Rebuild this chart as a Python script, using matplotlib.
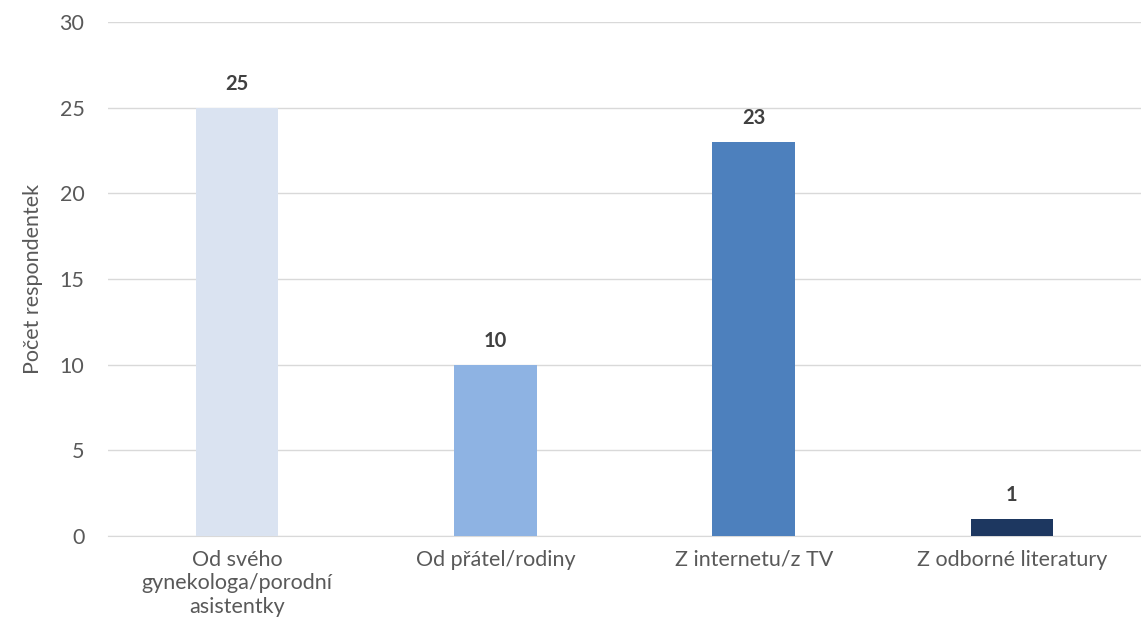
import matplotlib.pyplot as plt

# Data
categories = ['Od svého\ngynekologa/porodní\nasistentky', 'Od přátel/rodiny',
              'Z internetu/z TV', 'Z odborné literatury']
values = [25, 10, 23, 1]
colors = ['#DAE3F1', '#8EB3E3', '#4D80BD', '#1D3760']

plt.rcParams['font.family'] = ['Lato', 'DejaVu Sans']

fig = plt.figure(figsize=(11.41, 6.34), dpi=100)
ax = fig.add_axes([0.0947, 0.1546, 0.9053, 0.8104])

x = range(len(categories))
bars = ax.bar(x, values, width=0.32, color=colors, zorder=3)

for b, v in zip(bars, values):
    ax.text(b.get_x() + b.get_width() / 2, v + 0.8, str(v), ha='center', va='bottom',
            fontsize=14.5, fontweight='bold', color='#404040')

ax.set_xlim(-0.5, len(categories) - 0.5)
ax.set_ylim(0, 30)
ax.set_yticks(range(0, 31, 5))
ax.set_xticks(list(x))
ax.set_xticklabels(categories, fontsize=15.5, color='#595959', linespacing=1.22)
ax.tick_params(axis='y', labelsize=15.5, labelcolor='#595959', length=0, pad=17)
ax.tick_params(axis='x', length=0, pad=10)
ax.grid(axis='y', color='#D9D9D9', linewidth=1, zorder=0)
for s in ['top', 'right', 'left']:
    ax.spines[s].set_visible(False)
ax.spines['bottom'].set_color('#D9D9D9')
ax.set_ylabel('Počet respondentek', fontsize=15.5, color='#595959', labelpad=12)

fig.savefig('out.png', dpi=100)
